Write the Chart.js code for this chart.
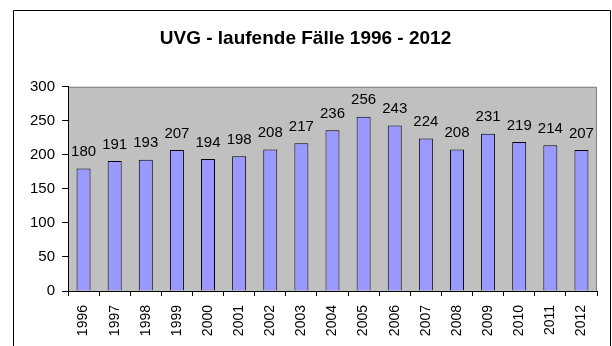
<!DOCTYPE html>
<html>
<head>
<meta charset="utf-8">
<script src="https://cdn.jsdelivr.net/npm/chart.js@4/dist/chart.umd.min.js"></script>
<style>
  html, body { margin: 0; padding: 0; background: #fff; overflow: hidden; }
  #wrap { position: relative; width: 612px; height: 346px; }
</style>
</head>
<body>
<div id="wrap"><canvas id="uvgChart" width="612" height="346"></canvas></div>
<script>
// UVG - laufende Fälle, Jahreswerte
const years = ['1996','1997','1998','1999','2000','2001','2002','2003','2004','2005','2006','2007','2008','2009','2010','2011','2012'];
const cases = [180, 191, 193, 207, 194, 198, 208, 217, 236, 256, 243, 224, 208, 231, 219, 214, 207];
const yTicks = [0, 50, 100, 150, 200, 250, 300];

const FONT = '"Liberation Sans", Arial, sans-serif';

// grey plot background + frame around the whole chart
const frame = {
    id: 'frame',
    beforeDraw(chart) {
        const { ctx, chartArea: a } = chart;
        ctx.save();
        ctx.fillStyle = '#fff';
        ctx.fillRect(0, 0, chart.width, chart.height);
        ctx.fillStyle = '#c0c0c0';
        ctx.fillRect(a.left, a.top, a.right - a.left, a.bottom - a.top);
        ctx.strokeStyle = '#808080';
        ctx.lineWidth = 1;
        ctx.beginPath();
        ctx.moveTo(a.left, a.top + 0.5);
        ctx.lineTo(a.right - 0.5, a.top + 0.5);
        ctx.lineTo(a.right - 0.5, a.bottom);
        ctx.stroke();
        ctx.strokeStyle = '#000';
        ctx.beginPath();
        ctx.moveTo(13.5, chart.height + 2);
        ctx.lineTo(13.5, 10.5);
        ctx.lineTo(610.5, 10.5);
        ctx.lineTo(610.5, chart.height + 2);
        ctx.stroke();
        ctx.restore();
    }
};

// value above each bar
const barLabels = {
    id: 'barLabels',
    afterDatasetsDraw(chart) {
        const { ctx } = chart;
        const meta = chart.getDatasetMeta(0);
        ctx.save();
        ctx.font = '15px ' + FONT;
        ctx.fillStyle = '#000';
        ctx.textAlign = 'center';
        ctx.textBaseline = 'bottom';
        meta.data.forEach((bar, i) => {
            ctx.fillText(String(cases[i]), bar.x, bar.y - 9);
        });
        ctx.restore();
    }
};

new Chart(document.getElementById('uvgChart'), {
    type: 'bar',
    data: {
        labels: years,
        datasets: [{
            data: cases,
            backgroundColor: '#9999ff',
            borderColor: '#000',
            borderWidth: 1,
            categoryPercentage: 1,
            barPercentage: 0.45
        }]
    },
    options: {
        responsive: false,
        animation: false,
        layout: { padding: { left: 14, right: 15, top: 0, bottom: 0 } },
        plugins: {
            legend: { display: false },
            tooltip: { enabled: false },
            title: {
                display: true,
                text: 'UVG - laufende Fälle 1996 - 2012',
                color: '#000',
                font: { family: FONT, size: 19, weight: 'bold' },
                padding: { top: 27, bottom: 37 }
            }
        },
        scales: {
            x: {
                grid: { display: true, offset: true, drawOnChartArea: false, drawTicks: true, tickLength: 5, color: '#000' },
                border: { display: true, color: '#000' },
                ticks: {
                    color: '#000',
                    font: { family: FONT, size: 14 },
                    minRotation: 90,
                    maxRotation: 90,
                    padding: 9,
                    autoSkip: false
                },
                afterFit(scale) { scale.height = 55; }
            },
            y: {
                min: 0,
                max: 300,
                afterBuildTicks(scale) { scale.ticks = yTicks.map(v => ({ value: v })); },
                grid: { display: true, drawOnChartArea: false, drawTicks: true, tickLength: 6, color: '#000' },
                border: { display: true, color: '#000' },
                ticks: {
                    color: '#000',
                    font: { family: FONT, size: 15 },
                    padding: 7
                },
                afterFit(scale) { scale.width = 54; }
            }
        }
    },
    plugins: [frame, barLabels]
});
</script>
</body>
</html>
